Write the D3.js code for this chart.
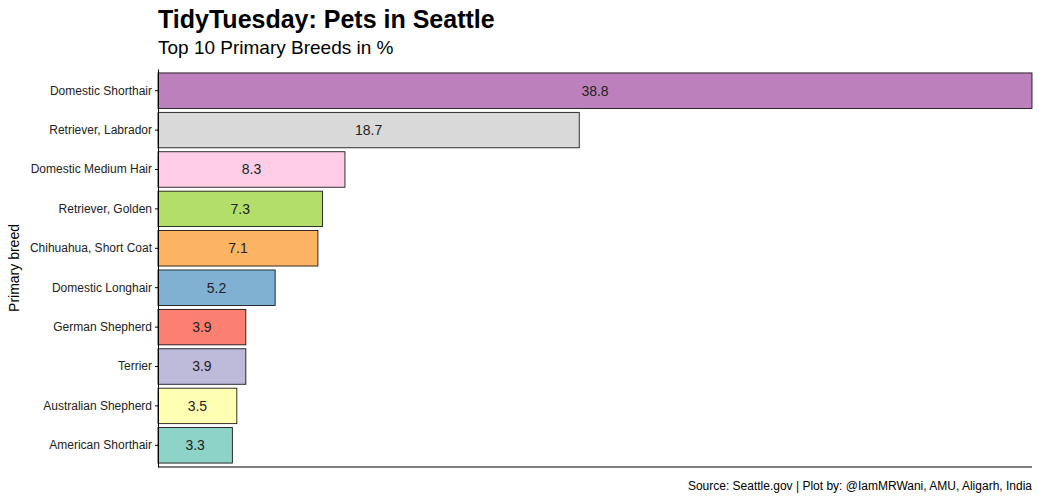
<!DOCTYPE html>
<html><head><meta charset="utf-8">
<script src="https://cdn.jsdelivr.net/npm/d3@7"></script>
<style>body{margin:0;background:#fff;font-family:"Liberation Sans",Arial,sans-serif}</style>
</head><body>
<svg id="chart" width="1039" height="500"></svg>
<script>
const breeds = ["Domestic Shorthair","Retriever, Labrador","Domestic Medium Hair","Retriever, Golden","Chihuahua, Short Coat","Domestic Longhair","German Shepherd","Terrier","Australian Shepherd","American Shorthair"];
const percents = [38.8,18.7,8.3,7.3,7.1,5.2,3.9,3.9,3.5,3.3];
const colors = ["#BC80BD","#D9D9D9","#FCCDE5","#B3DE69","#FDB462","#80B1D3","#FB8072","#BEBADA","#FFFFB3","#8DD3C7"];

const svg = d3.select("#chart");
const m = {left:158, right:1032, top:69, bottom:467};
const x = d3.scaleLinear().domain([0, 38.8]).range([m.left, m.right]);
const y = d3.scaleBand().domain(breeds).range([m.top, m.bottom]).padding(0.1);

svg.selectAll("rect.bar").data(breeds).join("rect")
  .attr("x", x(0)).attr("y", d => y(d))
  .attr("width", (d,i) => x(percents[i]) - x(0)).attr("height", y.bandwidth())
  .attr("fill", (d,i) => colors[i]).attr("stroke", "#000").attr("stroke-width", 0.8);

svg.selectAll("text.val").data(breeds).join("text")
  .attr("x", (d,i) => x(percents[i]/2)).attr("y", d => y(d) + y.bandwidth()/2)
  .attr("dy", "0.35em").attr("text-anchor", "middle").attr("font-size", 14).attr("fill", "#222")
  .text((d,i) => percents[i].toFixed(1));

const ya = svg.append("g").attr("transform", `translate(${m.left},0)`).call(d3.axisLeft(y).tickSize(3).tickSizeOuter(0));
ya.selectAll("text").attr("font-size", 12).attr("fill", "#222").attr("font-family", "Liberation Sans, Arial");
ya.select(".domain").attr("stroke", "#000");
svg.append("line").attr("x1", m.left).attr("x2", m.right).attr("y1", m.bottom).attr("y2", m.bottom).attr("stroke", "#000");

svg.append("text").attr("transform", `translate(19,${(m.top+m.bottom)/2}) rotate(-90)`)
  .attr("text-anchor", "middle").attr("font-size", 14).text("Primary breed");
svg.append("text").attr("x", 158).attr("y", 28).attr("font-size", 25).attr("font-weight", "bold").text("TidyTuesday: Pets in Seattle");
svg.append("text").attr("x", 158).attr("y", 54).attr("font-size", 19).text("Top 10 Primary Breeds in %");
svg.append("text").attr("x", 1032).attr("y", 490).attr("text-anchor", "end").attr("font-size", 12)
  .text("Source: Seattle.gov | Plot by: @IamMRWani, AMU, Aligarh, India");
</script>
</body></html>
